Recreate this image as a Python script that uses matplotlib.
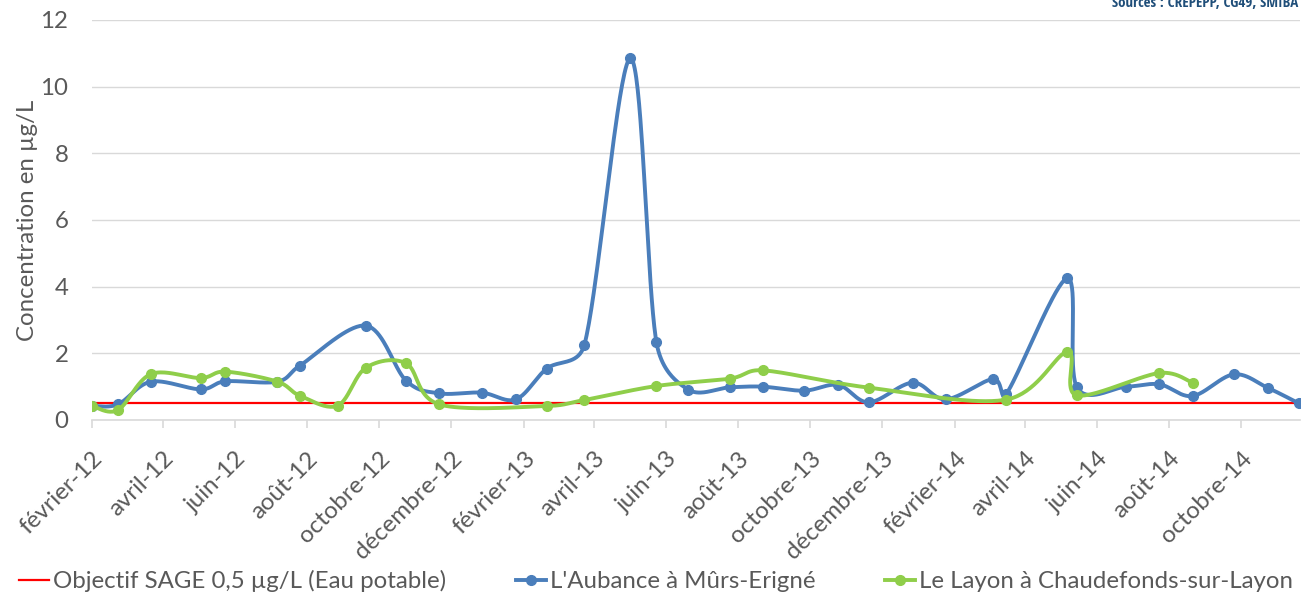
import numpy as np
import matplotlib
matplotlib.use("Agg")
import matplotlib.pyplot as plt
import matplotlib.dates as mdates
from matplotlib import font_manager
from matplotlib.ticker import FuncFormatter
from matplotlib.lines import Line2D
import datetime as dt

# ---------------- data ----------------
aubance_dates = ["2012-02-01", "2012-02-23", "2012-03-22", "2012-05-03", "2012-05-24",
                 "2012-07-07", "2012-07-26", "2012-09-20", "2012-10-24", "2012-11-21",
                 "2012-12-27", "2013-01-25", "2013-02-20", "2013-03-24", "2013-05-02",
                 "2013-05-24", "2013-06-20", "2013-07-25", "2013-08-22", "2013-09-26",
                 "2013-10-25", "2013-11-20", "2013-12-27", "2014-01-24", "2014-03-05",
                 "2014-03-16", "2014-05-07", "2014-05-15", "2014-06-26", "2014-07-24",
                 "2014-08-21", "2014-09-25", "2014-10-24", "2014-11-19"]
aubance_values = [0.42, 0.47, 1.15, 0.92, 1.16,
                  1.15, 1.63, 2.83, 1.18, 0.80,
                  0.82, 0.62, 1.54, 2.26, 10.85,
                  2.33, 0.91, 0.98, 1.00, 0.88,
                  1.05, 0.53, 1.12, 0.62, 1.23,
                  0.77, 4.25, 0.99, 1.00, 1.07,
                  0.72, 1.37, 0.96, 0.50]

layon_dates = ["2012-02-01", "2012-02-23", "2012-03-22", "2012-05-03", "2012-05-24",
               "2012-07-07", "2012-07-26", "2012-08-27", "2012-09-20", "2012-10-24",
               "2012-11-21", "2013-02-20", "2013-03-24", "2013-05-24", "2013-07-25",
               "2013-08-22", "2013-11-20", "2014-03-16", "2014-05-07", "2014-05-15",
               "2014-07-24", "2014-08-21"]
layon_values = [0.42, 0.30, 1.38, 1.26, 1.45,
                1.15, 0.73, 0.43, 1.57, 1.70,
                0.47, 0.42, 0.60, 1.02, 1.24,
                1.49, 0.97, 0.61, 2.04, 0.74,
                1.41, 1.12]

objectif_sage = 0.5

mois_fr = ["janvier", "février", "mars", "avril", "mai", "juin", "juillet",
           "août", "septembre", "octobre", "novembre", "décembre"]

y_ticks = [0, 2, 4, 6, 8, 10, 12]
x_start = "2012-02-01"
x_end = "2014-11-20"

label_obj = "Objectif SAGE 0,5 µg/L (Eau potable)"
label_aub = "L'Aubance à Mûrs-Erigné"
label_lay = "Le Layon à Chaudefonds-sur-Layon"
ylabel = "Concentration en µg/L"
source = "Sources : CREPEPP, CG49, SMIBA"

# ---------------- style ----------------
FONT = ["Lato", "DejaVu Sans"]
plt.rcParams['font.family'] = FONT
TXT = "#595959"
BLUE = "#4a7ebb"
GREEN = "#8fce4a"
RED = "#ff0000"
GRID = "#d9d9d9"
FS = 17.3
LW = 2.8
MS = 7


def to_num(ds):
    return np.array([mdates.date2num(dt.datetime.strptime(d, "%Y-%m-%d")) for d in ds])


def smooth(x, y, kx, ky, n=40):
    """Excel-like smoothed line: Bezier with tangent (P2-P0)/6, each control
    length limited to half the adjacent segment (computed in pixel space)."""
    pts = np.column_stack([np.asarray(x) * kx, np.asarray(y) * ky]).astype(float)
    out = []
    npt = len(pts)
    for i in range(npt - 1):
        p0 = pts[i - 1] if i > 0 else pts[i]
        p1 = pts[i]
        p2 = pts[i + 1]
        p3 = pts[i + 2] if i + 2 < npt else pts[i + 1]
        seg_len = np.linalg.norm(p2 - p1)
        t1 = (p2 - p0) / 6.0
        t2 = (p3 - p1) / 6.0
        l1 = np.linalg.norm(t1)
        l2 = np.linalg.norm(t2)
        if l1 > seg_len / 2 and l1 > 0:
            t1 = t1 * (seg_len / 2) / l1
        if l2 > seg_len / 2 and l2 > 0:
            t2 = t2 * (seg_len / 2) / l2
        c1 = p1 + t1
        c2 = p2 - t2
        t = np.linspace(0, 1, n)[:, None]
        seg = ((1 - t) ** 3) * p1 + 3 * ((1 - t) ** 2) * t * c1 + 3 * (1 - t) * t ** 2 * c2 + t ** 3 * p2
        if i > 0:
            seg = seg[1:]
        out.append(seg)
    out = np.vstack(out)
    return out[:, 0] / kx, out[:, 1] / ky


W, H = 1304, 599
fig = plt.figure(figsize=(W / 100, H / 100), dpi=100)
ax_l, ax_r, ax_t, ax_b = 92, 1300, 20, 420
ax = fig.add_axes([ax_l / W, 1 - ax_b / H, (ax_r - ax_l) / W, (ax_b - ax_t) / H])

xa = to_num(aubance_dates)
xl = to_num(layon_dates)
xmin = to_num([x_start])[0]
xmax = to_num([x_end])[0]
ax.set_xlim(xmin, xmax)
ax.set_ylim(0, 12)

kx = (ax_r - ax_l) / (xmax - xmin)
ky = (ax_b - ax_t) / 12.0

ax.axhline(objectif_sage, color=RED, lw=1.6, zorder=3)

sx, sy = smooth(xa, aubance_values, kx, ky)
ax.plot(sx, sy, color=BLUE, lw=LW, zorder=4, solid_capstyle='round', solid_joinstyle='round')
ax.plot(xa, aubance_values, 'o', color=BLUE, ms=MS, zorder=4)

sx, sy = smooth(xl, layon_values, kx, ky)
ax.plot(sx, sy, color=GREEN, lw=LW, zorder=5, solid_capstyle='round', solid_joinstyle='round')
ax.plot(xl, layon_values, 'o', color=GREEN, ms=MS, zorder=5)

ax.set_yticks(y_ticks)
ax.yaxis.grid(True, color=GRID, lw=1.0)
ax.set_axisbelow(True)
ax.tick_params(axis='y', length=0, pad=17, labelsize=FS, labelcolor=TXT)

ax.xaxis.set_major_locator(mdates.MonthLocator(bymonth=[2, 4, 6, 8, 10, 12]))
ax.xaxis.set_major_formatter(FuncFormatter(
    lambda v, p: "%s-%s" % (mois_fr[mdates.num2date(v).month - 1], mdates.num2date(v).strftime("%y"))))
ax.tick_params(axis='x', length=6, width=1.2, color=GRID, pad=14, labelsize=FS, labelcolor=TXT)
for lab in ax.get_xticklabels():
    lab.set_rotation(45)
    lab.set_ha('right')
    lab.set_va('top')
    lab.set_rotation_mode('anchor')

for s in ['top', 'right', 'left']:
    ax.spines[s].set_visible(False)
ax.spines['bottom'].set_color(GRID)
ax.spines['bottom'].set_linewidth(1.2)

ax.set_ylabel(ylabel, fontsize=FS, color=TXT, labelpad=2)

handles = [
    Line2D([], [], color=RED, lw=1.6),
    Line2D([], [], color=BLUE, lw=LW, marker='o', ms=MS),
    Line2D([], [], color=GREEN, lw=LW, marker='o', ms=MS),
]
fig.legend(handles, [label_obj, label_aub, label_lay], loc='center',
           bbox_to_anchor=(656 / W, 1 - 581 / H), ncol=3, frameon=False,
           fontsize=FS, labelcolor=TXT, handlelength=1.25, handletextpad=0.17,
           columnspacing=2.9, borderaxespad=0, borderpad=0)

# narrow font for the source note if one is installed
names = {f.name for f in font_manager.fontManager.ttflist}
narrow = [n for n in ["Liberation Sans Narrow", "Open Sans Condensed", "Roboto Condensed",
                      "DejaVu Sans Condensed"] if n in names]
src_family = narrow + ["DejaVu Sans"]
src = fig.text(1298 / W, 1 - 7 / H, source, ha='right', va='baseline',
               fontsize=12, fontweight='bold', color="#1f4e79", family=src_family)
fig.canvas.draw()
wpx = src.get_window_extent().width
if wpx > 0:
    src.set_fontsize(12 * 185.0 / wpx)

fig.savefig("out.png", dpi=100)
